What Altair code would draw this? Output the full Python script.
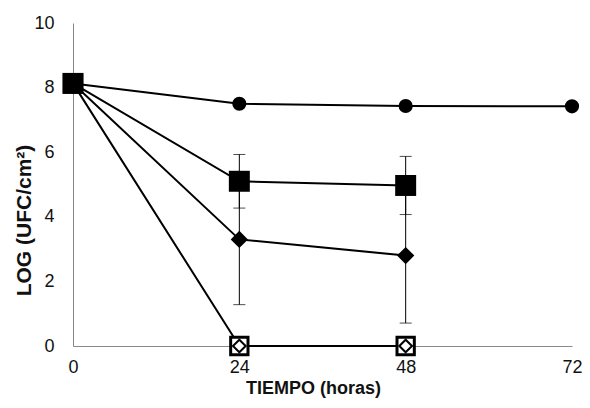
import altair as alt
import pandas as pd

time = [0, 24, 48, 72]
circle_vals = [8.13, 7.50, 7.43, 7.42]
square_vals = [8.13, 5.10, 4.97]
square_err = [0.0, 0.83, 0.90]
diamond_vals = [8.13, 3.30, 2.80]
diamond_err = [0.0, 2.02, 2.09]
zero_vals = [8.13, 0.0, 0.0]

x_ticks = [0, 24, 48, 72]
y_ticks = [0, 2, 4, 6, 8, 10]

rows = []
for t, v in zip(time, circle_vals):
    rows.append({"t": t, "v": v, "e": 0.0, "s": "circle"})
for t, v, e in zip(time, square_vals, square_err):
    rows.append({"t": t, "v": v, "e": e, "s": "square"})
for t, v, e in zip(time, diamond_vals, diamond_err):
    rows.append({"t": t, "v": v, "e": e, "s": "diamond"})
for t, v in zip(time, zero_vals):
    rows.append({"t": t, "v": v, "e": 0.0, "s": "zero"})
df = pd.DataFrame(rows)
df["lo"] = df["v"] - df["e"]
df["hi"] = df["v"] + df["e"]

FONT = "Liberation Sans"

xscale = alt.Scale(domain=[0, 72], nice=False)
yscale = alt.Scale(domain=[0, 10], nice=False)
xaxis = alt.Axis(values=x_ticks, title="TIEMPO (horas)", labelPadding=12, labelFlush=False,
                 titleFontSize=18, titleX=240, titleY=47, titleBaseline="alphabetic",
                 titleAlign="center")
yaxis = alt.Axis(values=y_ticks, title="LOG (UFC/cm²)", labelPadding=19, labelFlush=False,
                 titleFontSize=21, titleX=-43, titleY=197, titleBaseline="alphabetic",
                 titleAlign="center", titleAngle=270)


def X(f="t"):
    return alt.X(f + ":Q", scale=xscale, axis=xaxis)


def Y(f="v"):
    return alt.Y(f + ":Q", scale=yscale, axis=yaxis)


lines = alt.Chart(df).mark_line(color="black", strokeWidth=2).encode(
    x=X(), y=Y(), detail="s:N")

err_df = df[df["e"] > 0]
errbars = alt.Chart(err_df).mark_rule(color="black", strokeWidth=1).encode(
    x=X(), y=Y("lo"), y2="hi:Q")
caps_lo = alt.Chart(err_df).mark_tick(color="black", thickness=1, size=12, orient="horizontal").encode(
    x=X(), y=Y("lo"))
caps_hi = alt.Chart(err_df).mark_tick(color="black", thickness=1, size=12, orient="horizontal").encode(
    x=X(), y=Y("hi"))

circ = alt.Chart(df[df["s"] == "circle"]).mark_point(
    shape="circle", filled=True, color="black", size=200, opacity=1).encode(x=X(), y=Y())
diam = alt.Chart(df[df["s"] == "diamond"]).mark_point(
    shape="diamond", filled=True, color="black", size=300, opacity=1).encode(x=X(), y=Y())
zsq = alt.Chart(df[df["s"] == "zero"]).mark_point(
    shape="square", filled=False, fill="white", fillOpacity=1, stroke="black", strokeWidth=3,
    size=300, opacity=1).encode(x=X(), y=Y())
zdi = alt.Chart(df[df["s"] == "zero"]).mark_point(
    shape="diamond", filled=False, stroke="black", strokeWidth=2, size=160, opacity=1).encode(x=X(), y=Y())
sq = alt.Chart(df[df["s"] == "square"]).mark_point(
    shape="square", filled=True, color="black", size=440, opacity=1).encode(x=X(), y=Y())

chart = alt.layer(lines, errbars, caps_lo, caps_hi, circ, diam, zsq, zdi, sq).properties(
    width=499, height=323,
    background="white",
    autosize=alt.AutoSizeParams(type="none"),
    padding={"left": 65, "top": 15, "right": 10, "bottom": 54},
).configure_view(stroke=None).configure_axis(
    grid=False, ticks=False, domainColor="#888888",
    labelFontSize=18, titleFontWeight="bold",
    labelFont=FONT, titleFont=FONT, labelColor="#111111", titleColor="#111111",
)

chart.save("out.html", embed_options={"renderer": "svg", "actions": False})
